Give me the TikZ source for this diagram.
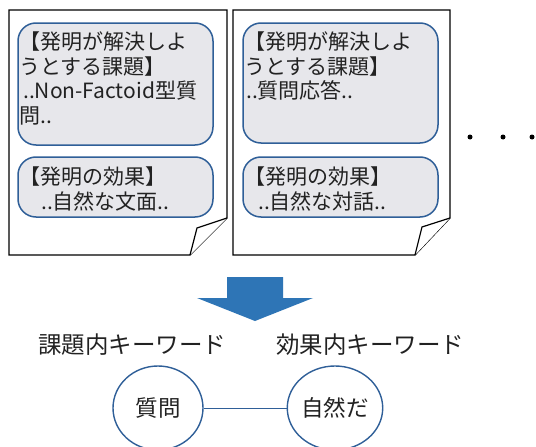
\documentclass[tikz,border=0pt]{standalone}
\usepackage{fontspec}
\setmainfont{Noto Sans CJK JP}
\usetikzlibrary{shapes.geometric}
\definecolor{boxblue}{HTML}{2F5F98}
\definecolor{boxfill}{HTML}{E7E7EB}
\definecolor{arrowblue}{HTML}{2E75B6}
\definecolor{txt}{HTML}{222222}
\tikzset{
  page/.style={draw=black, line width=1.2pt, fill=white, line join=miter},
  sbox/.style={draw=boxblue, line width=1.5pt, fill=boxfill, rounded corners=18pt, inner sep=0pt},
  btext/.style={anchor=north west, inner sep=0pt, align=left, text=txt, font=\fontsize{21}{24.5}\selectfont},
  label/.style={inner sep=0pt, text=txt, font=\fontsize{23.5}{26}\selectfont},
  kw/.style={ellipse, draw=boxblue, line width=1.4pt, inner sep=0pt, minimum width=90pt, minimum height=84pt, text=txt, font=\fontsize{22.5}{26}\selectfont},
  dot/.style={circle, fill=black, inner sep=0pt, minimum size=5pt}
}
\begin{document}
\begin{tikzpicture}[x=1pt,y=-1pt]
\clip (0,0) rectangle (536,447);
\fill[white] (0,0) rectangle (536,447);
% left page
\draw[page] (9,10) -- (227,10) -- (227,218) -- (190,255) -- (9,255) -- cycle;
\draw[page] (227,218) -- (197,228) -- (190,255);
\node[sbox, minimum width=195pt, minimum height=122pt] (lt) at (115.5,84) {};
\node[sbox, minimum width=195pt, minimum height=60pt] (lb) at (115.5,187) {};
\node[btext] (ltt) at (19,32) {【発明が解決しよ\\うとする課題】\\\hspace{4pt}..Non-Factoid型質\\問..};
\node[btext] (lbt) at (19,167) {【発明の効果】\\\hspace{22pt}..自然な文面..};
% right page
\draw[page] (233,10) -- (450,10) -- (450,218) -- (415,255) -- (233,255) -- cycle;
\draw[page] (450,218) -- (422,227) -- (415,255);
\node[sbox, minimum width=195pt, minimum height=120pt] (rt) at (340.5,83) {};
\node[sbox, minimum width=195pt, minimum height=60pt] (rb) at (340.5,187) {};
\node[btext] (rtt) at (244,32) {【発明が解決しよ\\うとする課題】\\\hspace{2pt}..質問応答..};
\node[btext] (rbt) at (244,167) {【発明の効果】\\\hspace{14pt}..自然な対話..};
% dots
\node[dot] (d1) at (470,137) {};
\node[dot] (d2) at (503,137) {};
\node[dot] (d3) at (532,137) {};
% arrow
\fill[arrowblue] (227,277) -- (283,277) -- (283,298) -- (313,298) -- (255,321) -- (197,298) -- (227,298) -- cycle;
% labels
\node[label] (l1) at (132,345) {課題内キーワード};
\node[label] (l2) at (370,345) {効果内キーワード};
% keyword nodes
\node[kw] (q) at (158,408) {質問};
\node[kw] (n) at (335,408) {自然だ};
\draw[boxblue, line width=1pt] (q) -- (n);
\end{tikzpicture}
\end{document}
